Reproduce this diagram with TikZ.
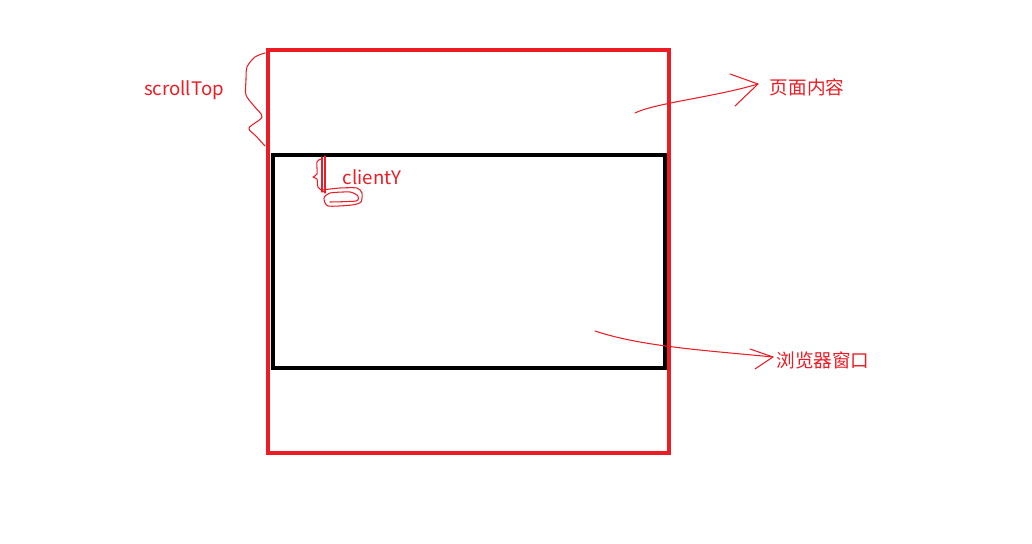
\documentclass[tikz,border=0pt]{standalone}
\usepackage{fontspec}
\newfontfamily\cjk{Noto Sans CJK SC}
\definecolor{paintred}{RGB}{237,28,36}
\tikzset{
  redline/.style={draw=paintred, line width=0.08cm},
  blackline/.style={draw=black, line width=0.09cm},
  pen/.style={draw=paintred, line width=0.6pt, line join=round, line cap=round},
  lbl/.style={text=paintred, font=\cjk\fontsize{10.6}{12}\selectfont, inner sep=0pt},
}
\begin{document}
\begin{tikzpicture}[x=0.02cm, y=-0.02cm]
\useasboundingbox (0,0) rectangle (1032,544);
% window and page
\draw[blackline] (273,155) rectangle (665,368);
\draw[redline] (268,50) rectangle (669,453);
% labels
\node[lbl] (scrolltop) at (184,90) {scrollTop};
\node[lbl] (clienty) at (372,177) {clientY};
\node[lbl] (pagelbl) at (807,87) {页面内容};
\node[lbl] (winlbl) at (823,360) {浏览器窗口};
% scrollTop brace
\draw[pen] plot[smooth, tension=0.5] coordinates {(265,53) (255,57) (247,67) (246,80) (246,95) (254,106) (262,117) (249,128) (256,136) (265,146)};
% clientY brace
\draw[pen] plot[smooth, tension=0.5] coordinates {(321,159) (317,162) (317,174) (313,177) (317,179) (318,187) (324,192)};
\draw[pen] (322,157) -- (322,192);
\draw[pen] (325,156) -- (325,193);
\draw[pen] plot[smooth, tension=0.4] coordinates {(322,190) (340,188) (357,188) (362,193) (361,202) (352,205) (328,206) (324,198) (330,193) (350,192) (358,196) (356,201) (330,202)};
% arrow to page
\coordinate (pagept) at (635,113);
\coordinate (pagetip) at (758,84);
\draw[pen] (pagept) .. controls (655,103) and (715,97) .. (pagetip);
\draw[pen] (730,74) -- (pagetip) -- (735,106);
% arrow to window
\coordinate (winpt) at (595,331);
\coordinate (wintip) at (773,357);
\draw[pen] (winpt) .. controls (640,346) and (700,350) .. (wintip);
\draw[pen] (750,349) -- (wintip) -- (755,369);
\end{tikzpicture}
\end{document}
